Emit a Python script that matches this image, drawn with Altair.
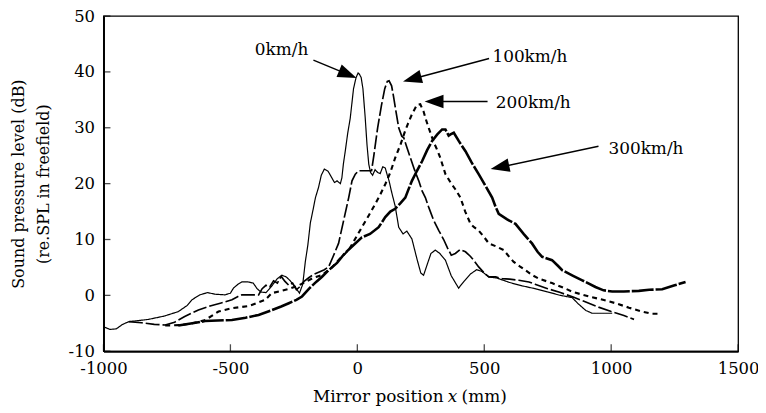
import math
import altair as alt
import pandas as pd

# ---------------- data ----------------
x_0 = [-1000, -975, -950, -925, -900, -860, -823, -760, -705, -670, -652, -620, -590, -560, -521,
       -500, -488, -470, -455, -430, -410, -395, -380, -360, -340, -315, -297, -280, -264, -245,
       -228, -215, -205, -195, -185, -175, -165, -153, -142, -130, -115, -100, -90, -80, -67,
       -61, -55, -47, -38, -28, -15, -5, 3, 8, 15, 22, 31, 38, 45, 52,
       60, 70, 80, 90, 100, 110, 118, 125, 135, 149, 163, 180, 195, 215, 235,
       250, 261, 275, 290, 307, 325, 347, 370, 399, 420, 445, 470, 490, 518, 550,
       600, 650, 700, 750, 800, 846, 870, 900, 925, 960, 1004]
y_0 = [-5.6, -6.1, -6.0, -5.2, -4.7, -4.5, -4.3, -3.7, -2.9, -1.8, -0.8, 0.1, 0.5, 0.2, 0.1,
       0.4, 1.3, 2.0, 2.4, 2.4, 2.2, 1.2, 0.6, 0.5, 1.5, 3.0, 3.6, 3.3, 2.6, 1.5,
       0.4, 2.0, 6.0, 9.0, 13.0, 15.2, 17.5, 19.3, 21.5, 22.6, 22.2, 21.0, 20.2, 20.5, 20.0,
       21.0, 23.5, 26.0, 29.0, 31.7, 37.0, 39.0, 39.8, 39.6, 39.0, 37.0, 31.8, 27.0, 23.5, 22.0,
       21.5, 22.5, 22.0, 21.8, 23.0, 22.8, 21.5, 20.5, 18.5, 16.0, 12.2, 11.0, 11.5, 10.1, 6.5,
       4.0, 3.6, 5.5, 7.5, 8.1, 7.5, 6.3, 3.5, 1.3, 2.5, 3.8, 4.6, 4.3, 3.3, 3.1,
       2.3, 1.7, 1.2, 0.6, 0.0, -0.4, -1.5, -2.7, -3.2, -3.2, -3.2]

x_100 = [-900, -850, -800, -757, -720, -680, -626, -580, -540, -494, -470, -455, -420, -389, -375,
         -360, -345, -330, -315, -300, -285, -270, -255, -240, -228, -210, -190, -170, -150, -130,
         -113, -95, -74, -54, -34, -21, -8, 5, 20, 40, 56, 65, 80, 95, 108,
         118, 125, 135, 143, 150, 163, 175, 183, 195, 210, 225, 242, 255, 268, 281,
         300, 321, 340, 355, 370, 386, 405, 426, 445, 460, 478, 500, 518, 545, 570,
         600, 636, 676, 700, 750, 800, 850, 900, 950, 1000, 1050, 1090]
y_100 = [-4.7, -4.9, -5.2, -5.3, -4.8, -3.8, -2.6, -1.9, -1.4, -0.8, -0.2, 0.1, 0.1, 0.1, 1.2,
         1.8, 1.5, 2.6, 2.2, 3.4, 2.5, 1.8, 2.2, 1.0, 1.5, 2.5, 3.2, 3.8, 4.2, 4.6,
         5.1, 7.0, 9.3, 13.4, 17.5, 20.5, 21.7, 22.3, 22.3, 22.3, 22.3, 25.0, 30.0, 34.0, 37.0,
         38.3, 38.4, 37.5, 35.5, 33.5, 30.0, 28.5, 28.2, 26.5, 24.5, 22.5, 20.5, 18.7, 17.5, 15.8,
         13.5, 11.6, 10.0, 8.5, 7.2, 7.5, 8.2, 7.8, 7.0, 6.2, 5.1, 4.0, 3.3, 3.3, 3.0,
         2.9, 2.7, 2.4, 2.0, 1.2, 0.5, -0.3, -1.2, -2.1, -2.9, -3.6, -4.3]

x_200 = [-757, -692, -650, -599, -547, -494, -428, -363, -337, -300, -260, -230, -200, -170, -140,
         -100, -70, -34, -10, 18, 45, 71, 90, 110, 130, 149, 170, 188, 200, 215,
         235, 248, 261, 270, 281, 300, 315, 327, 347, 370, 386, 406, 425, 446, 460,
         478, 500, 518, 545, 577, 600, 616, 640, 662, 690, 715, 767, 810, 850, 912,
         960, 1017, 1070, 1122, 1160, 1195]
y_200 = [-5.4, -5.3, -5.0, -4.4, -2.9, -2.3, -1.9, -0.8, 0.4, 0.8, 1.3, 1.8, 2.5, 3.2, 3.6,
         5.0, 6.5, 8.1, 10.0, 12.2, 14.3, 16.4, 18.0, 19.9, 22.0, 24.6, 27.0, 29.4, 30.8, 32.4,
         34.1, 34.2, 32.9, 31.5, 30.0, 27.5, 26.0, 24.6, 21.7, 20.0, 19.0, 17.5, 15.0, 12.8, 12.2,
         11.6, 10.4, 9.3, 8.8, 8.1, 6.8, 6.0, 5.2, 4.5, 3.6, 3.0, 2.2, 1.4, 0.6, -0.2,
         -0.7, -1.4, -2.2, -2.9, -3.3, -3.3]

x_300 = [-705, -650, -600, -550, -494, -440, -389, -340, -300, -270, -240, -218, -190, -160, -140,
         -113, -80, -50, -20, 18, 50, 84, 110, 130, 149, 170, 189, 200, 215, 235,
         255, 275, 294, 315, 334, 347, 360, 367, 380, 400, 426, 450, 478, 505, 531,
         545, 557, 590, 623, 655, 688, 710, 728, 767, 790, 807, 850, 886, 938, 970,
         1004, 1050, 1109, 1150, 1201, 1250, 1293]
y_300 = [-5.4, -5.0, -4.6, -4.5, -4.4, -4.0, -3.5, -2.7, -2.0, -1.4, -0.8, -0.2, 1.2, 2.5, 3.3,
         4.5, 5.8, 7.5, 8.8, 10.4, 11.0, 12.2, 14.0, 15.0, 15.5, 16.5, 17.5, 18.8, 20.5, 22.3,
         24.0, 26.0, 27.6, 28.8, 29.7, 29.7, 28.6, 28.8, 29.1, 27.6, 25.8, 23.8, 21.7, 19.6, 17.5,
         15.8, 14.6, 13.6, 12.8, 11.0, 9.3, 7.8, 6.9, 6.3, 5.3, 4.5, 3.5, 2.7, 1.5, 0.9,
         0.7, 0.7, 0.8, 1.0, 1.1, 1.8, 2.4]

series_names = ["0km/h", "100km/h", "200km/h", "300km/h"]
x_ticks = [-1000, -500, 0, 500, 1000, 1500]
y_ticks = [-10, 0, 10, 20, 30, 40, 50]

# ---------------- layout ----------------
W, H = 638, 337
XMIN, XMAX, YMIN, YMAX = -1000, 1500, -10, 50
SX = W / (XMAX - XMIN)
SY = H / (YMAX - YMIN)
FONT = "DejaVu Serif"

rows = []
for name, xs, ys in zip(series_names, [x_0, x_100, x_200, x_300], [y_0, y_100, y_200, y_300]):
    for i, (a, b) in enumerate(zip(xs, ys)):
        rows.append({"series": name, "x": a, "y": b, "idx": i})
df = pd.DataFrame(rows)

xscale = alt.Scale(domain=[XMIN, XMAX], nice=False, zero=False)
yscale = alt.Scale(domain=[YMIN, YMAX], nice=False, zero=False)

lines = alt.Chart(df).mark_line(color="black", strokeCap="butt", strokeJoin="miter").encode(
    x=alt.X("x:Q", scale=xscale,
            axis=alt.Axis(values=x_ticks, title=None, labelPadding=9, labelFlush=False,
                          labelOverlap=False, labelExpr="'' + datum.value")),
    y=alt.Y("y:Q", scale=yscale,
            axis=alt.Axis(values=y_ticks, title=None, labelPadding=9, labelFlush=False,
                          labelOverlap=False, labelExpr="'' + datum.value")),
    detail="series:N",
    order="idx:Q",
    strokeDash=alt.StrokeDash("series:N", legend=None,
                              scale=alt.Scale(domain=series_names,
                                              range=[[1, 0], [14, 3], [5, 4], [22, 2]])),
    strokeWidth=alt.StrokeWidth("series:N", legend=None,
                                scale=alt.Scale(domain=series_names,
                                                range=[1.2, 2.6, 2.6, 2.8])),
)

# inward ticks
xt = alt.Chart(pd.DataFrame({"t": x_ticks})).mark_tick(
    orient="vertical", size=7, thickness=1.3, color="black").encode(
    x=alt.X("t:Q", scale=xscale), y=alt.value(H - 3.5))
yt = alt.Chart(pd.DataFrame({"t": y_ticks})).mark_tick(
    orient="horizontal", size=7, thickness=1.3, color="black").encode(
    y=alt.Y("t:Q", scale=yscale), x=alt.value(3.5))

# annotations: labels and arrows
lab_text = ["0km/h", "100km/h", "200km/h", "300km/h"]
lab_x = [-193, 532, 545, 989]
lab_y = [43.9, 42.7, 34.4, 26.2]
lab_align = ["right", "left", "left", "left"]
arr_start = [(-173, 42.1), (519, 42.4), (513, 34.7), (950, 26.7)]
arr_tip = [(-3, 38.9), (180, 38.3), (265, 34.7), (525, 22.6)]

labdf = pd.DataFrame({"t": lab_text, "x": lab_x, "y": lab_y, "a": lab_align})
lab_r = alt.Chart(labdf[labdf.a == "right"]).mark_text(
    font=FONT, fontSize=17, color="black", align="right", baseline="middle").encode(
    x=alt.X("x:Q", scale=xscale), y=alt.Y("y:Q", scale=yscale), text="t:N")
lab_l = alt.Chart(labdf[labdf.a == "left"]).mark_text(
    font=FONT, fontSize=17, color="black", align="left", baseline="middle").encode(
    x=alt.X("x:Q", scale=xscale), y=alt.Y("y:Q", scale=yscale), text="t:N")

R = 9.5
rule_rows, head_rows = [], []
for (sx0, sy0), (tx, ty) in zip(arr_start, arr_tip):
    dx = (tx - sx0) * SX
    dy = -(ty - sy0) * SY
    L = math.hypot(dx, dy)
    ux, uy = dx / L, dy / L
    cx = tx - ux * R / SX
    cy = ty + uy * R / SY
    ang = math.degrees(math.atan2(dx, -dy)) % 360
    rule_rows.append({"x": sx0, "y": sy0, "x2": cx, "y2": cy})
    head_rows.append({"x": cx, "y": cy, "ang": ang})

rules = alt.Chart(pd.DataFrame(rule_rows)).mark_rule(color="black", strokeWidth=1.4).encode(
    x=alt.X("x:Q", scale=xscale), y=alt.Y("y:Q", scale=yscale), x2="x2:Q", y2="y2:Q")
heads = alt.Chart(pd.DataFrame(head_rows)).mark_point(
    shape="M0,-1L0.72,1L-0.72,1Z", filled=True, color="black", opacity=1,
    size=(2 * R) ** 2, strokeWidth=0).encode(
    x=alt.X("x:Q", scale=xscale), y=alt.Y("y:Q", scale=yscale),
    angle=alt.Angle("ang:Q", scale=None))

one = pd.DataFrame({"d": [0]})
def txt(s, x, y, **kw):
    return alt.Chart(one).mark_text(text=s, font=FONT, color="black", **kw).encode(
        x=alt.value(x), y=alt.value(y))

xt1 = txt("Mirror position", 342, 388, fontSize=17, align="right", baseline="alphabetic")
xt2 = txt("x", 351, 388, fontSize=17, align="center", baseline="alphabetic", fontStyle="italic")
xt3 = txt("(mm)", 360, 388, fontSize=17, align="left", baseline="alphabetic")
yt1 = txt("Sound pressure level (dB)", -85, 169, fontSize=16, align="center",
          baseline="middle", angle=270)
yt2 = txt("(re.SPL in freefield)", -60, 169, fontSize=16, align="center",
          baseline="middle", angle=270)

chart = alt.layer(lines, xt, yt, rules, heads, lab_r, lab_l, xt1, xt2, xt3, yt1, yt2).properties(
    width=W, height=H,
    autosize=alt.AutoSizeParams(type="none"),
    padding={"left": 96, "top": 7, "right": 20, "bottom": 58},
).configure_view(stroke="black", strokeWidth=1.3).configure_axis(
    domainColor="black", domainWidth=2, labelFont=FONT, labelFontSize=16.5,
    labelColor="black", ticks=False, tickSize=0, grid=False,
)

chart.save("out.html", embed_options={"renderer": "svg", "actions": False})
